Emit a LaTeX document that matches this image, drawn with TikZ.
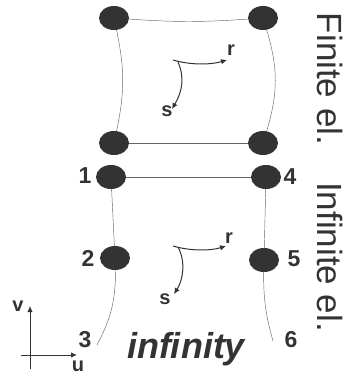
\documentclass[tikz,border=0pt]{standalone}
\usepackage{fontspec}
\setmainfont{Liberation Sans}
\usepackage{xcolor}
\usetikzlibrary{arrows.meta,shapes.geometric}
\definecolor{nodefill}{HTML}{333333}
\definecolor{edgegray}{HTML}{666666}
\definecolor{textgray}{HTML}{333333}

\begin{document}
\begin{tikzpicture}[
  x=1pt,
  y=-1pt,
  gridpoint/.style={
    ellipse,
    fill=nodefill,
    inner sep=0pt,
    minimum width=30pt,
    minimum height=24pt
  },
  side/.style={
    -,
    draw=edgegray,
    line width=0.45pt
  },
  axis/.style={
    -{Latex[length=6pt,width=5.5pt]},
    draw=textgray,
    line width=1pt
  },
  local/.style={
    -{Latex[length=6pt,width=5.5pt]},
    draw=textgray,
    line width=1pt
  },
  number/.style={
    inner sep=0pt,
    text=textgray,
    font=\fontsize{23}{23}\selectfont\bfseries
  },
  letter/.style={
    inner sep=0pt,
    text=textgray,
    font=\fontsize{20}{20}\selectfont\bfseries
  },
  heading/.style={
    inner sep=0pt,
    rotate=-90,
    text=textgray,
    font=\fontsize{35}{35}\selectfont
  }
]

\useasboundingbox (0,0) rectangle (345,376);

% Finite element
\node[gridpoint] (fa) at (114,18) {};
\node[gridpoint] (fb) at (263,18) {};
\node[gridpoint] (fc) at (114,143) {};
\node[gridpoint] (fd) at (263,143) {};

% Infinite element
\node[gridpoint] (one)  at (111,177) {};
\node[gridpoint] (four) at (266,177) {};
\node[gridpoint] (two)  at (115,258) {};
\node[gridpoint] (five) at (264,260) {};
\coordinate (three) at (97,345);
\coordinate (six)   at (273,341);

% Node numbers
\node[number] (labone)   at (85,176)  {1};
\node[number] (labfour)  at (290,177) {4};
\node[number] (labtwo)   at (88,258)  {2};
\node[number] (labfive)  at (294,259) {5};
\node[number] (labthree) at (85,340)  {3};
\node[number] (labsix)   at (291,340) {6};

% Element sides
\draw[side] (fa) to[bend right=4] (fb);
\draw[side] (fc) -- (fd);
\draw[side] (fa) to[bend left=12] (fc);
\draw[side] (fb) to[bend left=17] (fd);
\draw[side] (one) -- (four);
\draw[side] (one) -- (two);
\draw[side] (four) -- (five);
\draw[side] (two) to[bend left=14] (three);
\draw[side] (five) to[bend right=8] (six);

% Local axes, finite element
\coordinate (forigin) at (173,60);
\coordinate (frend)   at (227,60);
\coordinate (fsend)   at (172,109);
\node[letter] (fr) at (231,50)  {r};
\node[letter] (fs) at (167,111) {s};
\draw[local] (forigin) .. controls (190,65) and (210,65) .. (frend);
\draw[local] (178,62) .. controls (185,78) and (182,92) .. (fsend);

% Local axes, infinite element
\coordinate (iorigin) at (173,246);
\coordinate (irend)   at (226,246);
\coordinate (isend)   at (174,294);
\node[letter] (ir) at (229,238) {r};
\node[letter] (is) at (165,299) {s};
\draw[local] (iorigin) .. controls (190,251) and (210,251) .. (irend);
\draw[local] (178,247) .. controls (186,262) and (183,280) .. (isend);

% Global axes
\coordinate (uleft)  at (21,355);
\coordinate (uright) at (77,355);
\coordinate (vlow)   at (30,369);
\coordinate (vhigh)  at (30,306);
\node[letter] (labu) at (78,366) {u};
\node[letter] (labv) at (18,306) {v};
\draw[axis] (uleft) -- (uright);
\draw[axis] (vlow) -- (vhigh);

\node[inner sep=0pt,text=textgray,font=\fontsize{36}{36}\selectfont\bfseries\itshape] (infinity) at (186,349) {infinity};

% Side headings
\node[heading] (finite)   at (330,79)  {Finite el.};
\node[heading] (infinite) at (330,257) {Infinite el.};

\end{tikzpicture}
\end{document}
